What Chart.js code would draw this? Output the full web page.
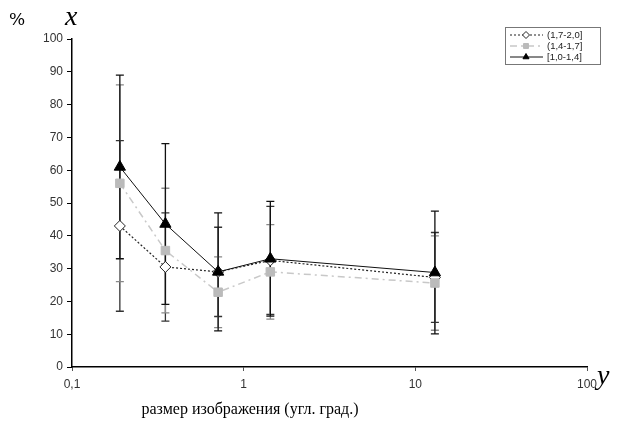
<!DOCTYPE html>
<html lang="ru">
<head>
<meta charset="UTF-8">
<title>Chart</title>
<script src="https://cdn.jsdelivr.net/npm/chart.js@4.4.0/dist/chart.umd.min.js"></script>
<style>
  body { margin: 0; background: #fff; }
  #wrap { width: 627px; height: 421px; position: relative; }
</style>
</head>
<body>
<div id="wrap"><canvas id="c"></canvas></div>
<script>
// image size (deg)
const sizes = [0.19, 0.35, 0.71, 1.43, 13];
const xTicks = [0.1, 1, 10, 100];

// (1,7-2,0]
const seriesC = [43, 30.5, 29, 32.5, 27.3];
const errC = [26, 16.5, 13.6, 16.5, 13.7];
// (1,4-1,7]
const seriesB = [56, 35.5, 22.8, 29, 25.6];
const errB = [30, 19, 10.8, 14.4, 14.4];
// [1,0-1,4]
const seriesA = [61, 43.6, 29, 33, 28.8];
const errA = [28, 24.5, 18, 17.5, 18.7];

const labelsLegend = ['(1,7-2,0]', '(1,4-1,7]', '[1,0-1,4]'];

function pts(vals) { return vals.map((v, i) => ({ x: sizes[i], y: v })); }

const errorBars = {
  id: 'errorBars',
  beforeDatasetsDraw(chart) {
    const { ctx, scales: { x, y } } = chart;
    chart.data.datasets.forEach(ds => {
      ctx.save();
      ctx.strokeStyle = ds.errColor;
      ctx.lineWidth = 1.3;
      ds.data.forEach((p, i) => {
        const px = x.getPixelForValue(p.x);
        const top = y.getPixelForValue(p.y + ds.err[i]);
        const bot = y.getPixelForValue(p.y - ds.err[i]);
        ctx.beginPath();
        ctx.moveTo(px, top); ctx.lineTo(px, bot);
        ctx.moveTo(px - 4, top); ctx.lineTo(px + 4, top);
        ctx.moveTo(px - 4, bot); ctx.lineTo(px + 4, bot);
        ctx.stroke();
      });
      ctx.restore();
    });
  }
};

const decor = {
  id: 'decor',
  afterDraw(chart) {
    const ctx = chart.ctx;
    ctx.save();
    ctx.fillStyle = '#000';
    ctx.textBaseline = 'alphabetic';
    ctx.font = '17px "DejaVu Serif", serif';
    ctx.fillText('%', 9, 25);
    ctx.font = 'italic 28px "Liberation Serif", serif';
    ctx.fillText('x', 65, 25);
    ctx.fillText('y', 597, 384);
    ctx.font = '16px "Liberation Serif", serif';
    ctx.textAlign = 'center';
    ctx.fillText('размер изображения (угл. град.)', 250, 414);

    // legend
    const lx = 505, ly = 27, lw = 95, lh = 37;
    ctx.textAlign = 'left';
    ctx.strokeStyle = '#777';
    ctx.lineWidth = 1;
    ctx.strokeRect(lx + 0.5, ly + 0.5, lw, lh);
    ctx.font = '9.5px "Liberation Sans", Arial, sans-serif';
    ctx.textBaseline = 'middle';
    chart.data.datasets.forEach((ds, i) => {
      const yy = ly + 8 + i * 11;
      ctx.save();
      ctx.strokeStyle = ds.borderColor;
      ctx.lineWidth = ds.borderWidth;
      ctx.setLineDash(ds.borderDash || []);
      ctx.beginPath();
      ctx.moveTo(lx + 5, yy); ctx.lineTo(lx + 38, yy);
      ctx.stroke();
      ctx.restore();
      ctx.save();
      ctx.fillStyle = ds.pointBackgroundColor;
      ctx.strokeStyle = ds.pointBorderColor;
      ctx.lineWidth = 1;
      Chart.helpers.drawPoint(ctx, { pointStyle: ds.pointStyle, radius: 3.5, borderWidth: 1, rotation: 0 }, lx + 21, yy);
      ctx.restore();
      ctx.fillStyle = '#222';
      ctx.fillText(labelsLegend[i], lx + 42, yy + 0.5);
    });
    ctx.restore();
  }
};

new Chart(document.getElementById('c'), {
  type: 'scatter',
  data: {
    datasets: [
      {
        label: labelsLegend[0], order: 2,
        data: pts(seriesC), err: errC, errColor: '#333',
        showLine: true, borderColor: '#222', borderWidth: 1.2, borderDash: [2, 2],
        pointStyle: 'rectRot', pointRadius: 5.5, pointBackgroundColor: '#fff',
        pointBorderColor: '#222', pointBorderWidth: 1
      },
      {
        label: labelsLegend[1], order: 1,
        data: pts(seriesB), err: errB, errColor: '#888',
        showLine: true, borderColor: '#c8c8c8', borderWidth: 1.5, borderDash: [7, 4, 2, 4],
        pointStyle: 'rect', pointRadius: 6, pointBackgroundColor: '#bbb',
        pointBorderColor: '#bbb', pointBorderWidth: 1
      },
      {
        label: labelsLegend[2], order: 0,
        data: pts(seriesA), err: errA, errColor: '#111',
        showLine: true, borderColor: '#111', borderWidth: 1,
        pointStyle: 'triangle', pointRadius: 6.5, pointBackgroundColor: '#000',
        pointBorderColor: '#000', pointBorderWidth: 1
      }
    ]
  },
  options: {
    responsive: true,
    maintainAspectRatio: false,
    animation: false,
    layout: { padding: { top: 39, right: 40, left: 0, bottom: 0 } },
    plugins: { legend: { display: false }, tooltip: { enabled: false } },
    scales: {
      x: {
        type: 'logarithmic', min: 0.1, max: 100,
        afterBuildTicks(s) { s.ticks = xTicks.map(v => ({ value: v })); },
        afterFit(s) { s.height = 54; },
        border: { color: '#000', width: 1.5 },
        grid: { drawOnChartArea: false, tickLength: 4, color: '#555' },
        ticks: {
          color: '#333', font: { family: '"Liberation Sans", Arial', size: 12 }, padding: 6,
          autoSkip: false, maxRotation: 0,
          callback: v => String(v).replace('.', ',')
        }
      },
      y: {
        min: 0, max: 100,
        afterFit(s) { s.width = 72; },
        border: { color: '#000', width: 1.5 },
        grid: { drawOnChartArea: false, tickLength: 5, color: '#000' },
        ticks: {
          stepSize: 10, color: '#333', font: { family: '"Liberation Sans", Arial', size: 12 }, padding: 4
        }
      }
    }
  },
  plugins: [errorBars, decor]
});
</script>
</body>
</html>
